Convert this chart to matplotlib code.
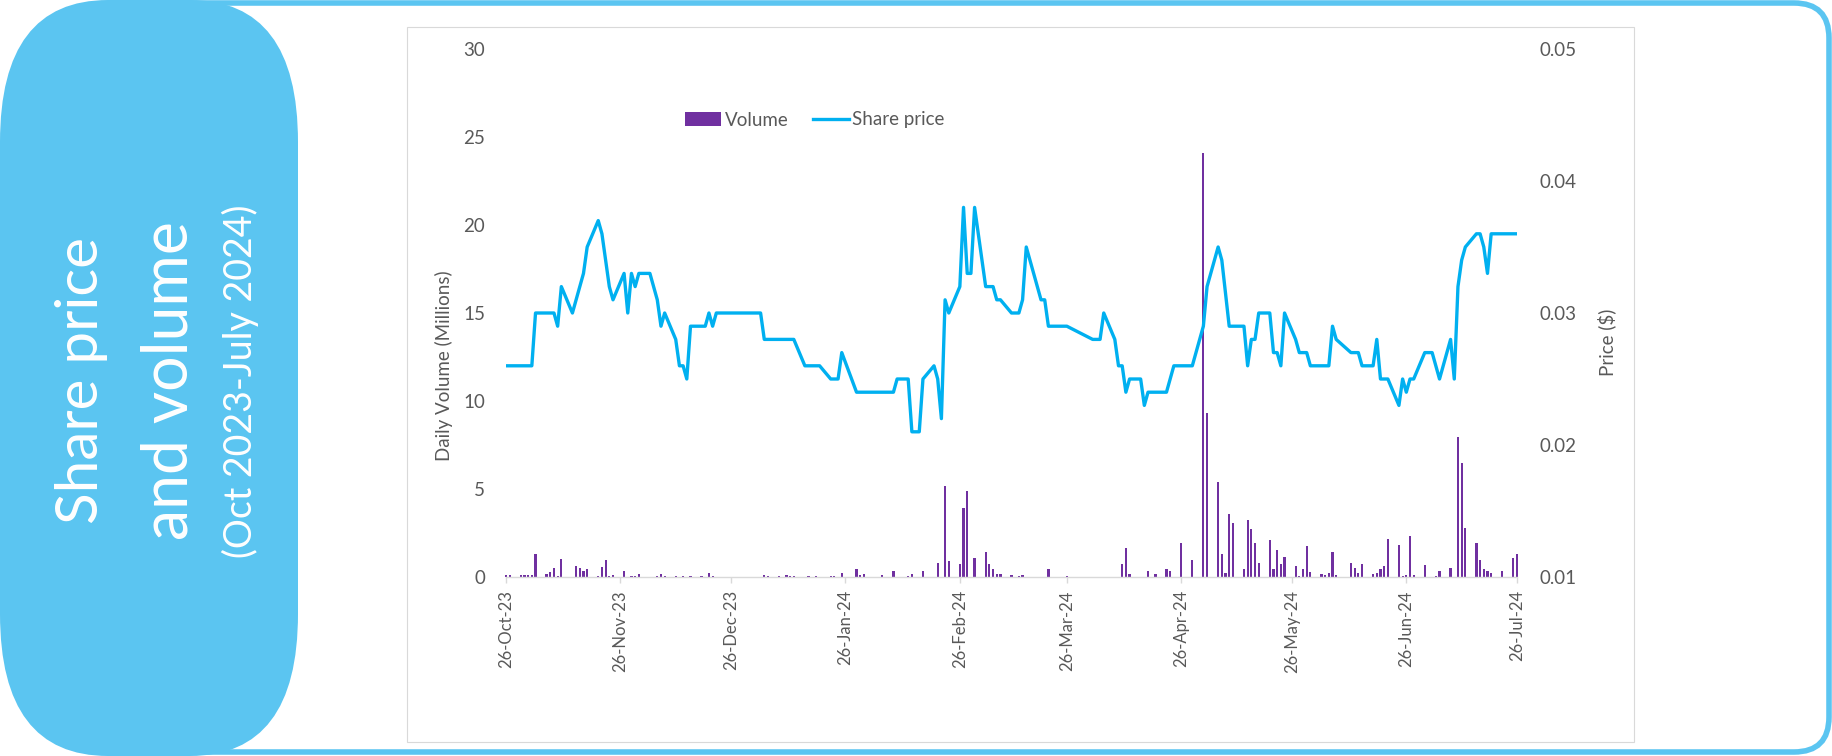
import matplotlib
matplotlib.use('Agg')
import matplotlib.pyplot as plt
import matplotlib.dates as mdates
from matplotlib.patches import FancyBboxPatch, Rectangle, Patch
from matplotlib.lines import Line2D
from matplotlib.ticker import FormatStrFormatter
import pandas as pd

plt.rcParams['font.family'] = ['Lato', 'DejaVu Sans']

# ---------------- data ----------------
vol_dates = [
    '2023-10-26', '2023-10-27', '2023-10-30', '2023-10-31',
    '2023-11-01', '2023-11-02', '2023-11-03', '2023-11-06', '2023-11-07', '2023-11-08',
    '2023-11-09', '2023-11-10', '2023-11-14', '2023-11-15', '2023-11-16', '2023-11-17',
    '2023-11-20', '2023-11-21', '2023-11-22', '2023-11-23', '2023-11-24', '2023-11-27',
    '2023-11-28', '2023-11-29', '2023-11-30',
    '2023-12-01', '2023-12-04', '2023-12-05', '2023-12-06', '2023-12-07', '2023-12-08',
    '2023-12-11', '2023-12-13', '2023-12-15', '2023-12-18', '2023-12-20', '2023-12-21',
    '2024-01-04', '2024-01-05', '2024-01-08', '2024-01-10', '2024-01-11', '2024-01-12',
    '2024-01-16', '2024-01-18', '2024-01-22', '2024-01-23', '2024-01-25', '2024-01-29',
    '2024-01-30', '2024-01-31',
    '2024-02-02', '2024-02-05', '2024-02-08', '2024-02-12', '2024-02-13', '2024-02-14',
    '2024-02-15', '2024-02-16', '2024-02-20', '2024-02-22', '2024-02-23', '2024-02-26',
    '2024-02-27', '2024-02-28', '2024-02-29',
    '2024-03-01', '2024-03-04', '2024-03-05', '2024-03-06', '2024-03-07', '2024-03-08',
    '2024-03-11', '2024-03-13', '2024-03-14', '2024-03-21', '2024-03-26',
    '2024-04-03', '2024-04-04', '2024-04-05', '2024-04-08', '2024-04-09', '2024-04-10',
    '2024-04-11', '2024-04-12', '2024-04-15', '2024-04-17', '2024-04-19', '2024-04-22',
    '2024-04-23', '2024-04-24', '2024-04-26', '2024-04-29',
    '2024-05-02', '2024-05-03', '2024-05-06', '2024-05-07', '2024-05-08', '2024-05-09',
    '2024-05-10', '2024-05-13', '2024-05-14', '2024-05-15', '2024-05-16', '2024-05-17',
    '2024-05-20', '2024-05-21', '2024-05-22', '2024-05-23', '2024-05-24', '2024-05-27',
    '2024-05-28', '2024-05-29', '2024-05-30', '2024-05-31',
    '2024-06-03', '2024-06-04', '2024-06-05', '2024-06-06', '2024-06-07', '2024-06-11',
    '2024-06-12', '2024-06-13', '2024-06-14', '2024-06-17', '2024-06-18', '2024-06-19',
    '2024-06-20', '2024-06-21', '2024-06-24', '2024-06-25', '2024-06-26', '2024-06-27',
    '2024-06-28',
    '2024-07-01', '2024-07-02', '2024-07-03', '2024-07-04', '2024-07-05', '2024-07-08',
    '2024-07-10', '2024-07-11', '2024-07-12', '2024-07-15', '2024-07-16', '2024-07-17',
    '2024-07-18', '2024-07-19', '2024-07-22', '2024-07-25', '2024-07-26',
]
vol_values = [
    0.10, 0.10, 0.10, 0.10,
    0.10, 0.10, 1.30, 0.15, 0.30, 0.50,
    0.03, 1.00, 0.65, 0.52, 0.35, 0.44,
    0.05, 0.56, 0.96, 0.03, 0.13, 0.33,
    0.02, 0.06, 0.08,
    0.17, 0.01, 0.01, 0.08, 0.19, 0.04,
    0.04, 0.06, 0.06, 0.04, 0.25, 0.04,
    0.13, 0.04, 0.04, 0.13, 0.06, 0.06,
    0.04, 0.04, 0.04, 0.04, 0.25, 0.46,
    0.12, 0.15,
    0.01, 0.12, 0.35, 0.04, 0.19, 0.02,
    0.02, 0.35, 0.81, 5.15, 0.92, 0.73,
    3.90, 4.86, 0.02,
    1.07, 1.40, 0.72, 0.44, 0.19, 0.19,
    0.10, 0.04, 0.13, 0.44, 0.04,
    0.01, 0.02, 0.01, 0.01, 0.01, 0.72,
    1.67, 0.15, 0.01, 0.34, 0.15, 0.46,
    0.32, 0.01, 1.95, 0.95,
    24.1, 9.30, 5.37, 1.33, 0.25, 3.57,
    3.04, 0.46, 3.23, 2.75, 1.94, 0.82,
    2.13, 0.44, 1.52, 0.76, 1.14, 0.61,
    0.04, 0.44, 1.78, 0.28,
    0.17, 0.11, 0.23, 1.40, 0.13, 0.80,
    0.53, 0.25, 0.76, 0.15, 0.25, 0.44,
    0.65, 2.18, 1.84, 0.04, 0.11, 2.31,
    0.13,
    0.70, 0.01, 0.01, 0.04, 0.34, 0.53,
    7.97, 6.45, 2.77, 1.95, 0.99, 0.47,
    0.36, 0.25, 0.34, 1.06, 1.29,
]

price_dates = [
    '2023-10-26', '2023-11-02', '2023-11-03', '2023-11-08', '2023-11-09', '2023-11-10',
    '2023-11-13', '2023-11-16', '2023-11-17', '2023-11-20', '2023-11-21', '2023-11-23',
    '2023-11-24', '2023-11-27', '2023-11-28', '2023-11-29', '2023-11-30', '2023-12-01',
    '2023-12-04', '2023-12-06', '2023-12-07', '2023-12-08', '2023-12-11', '2023-12-12',
    '2023-12-13', '2023-12-14', '2023-12-15', '2023-12-19', '2023-12-20', '2023-12-21',
    '2023-12-22', '2024-01-03', '2024-01-04', '2024-01-12', '2024-01-15', '2024-01-19',
    '2024-01-22', '2024-01-24', '2024-01-25', '2024-01-29', '2024-02-08', '2024-02-09',
    '2024-02-12', '2024-02-13', '2024-02-15', '2024-02-16', '2024-02-19', '2024-02-20',
    '2024-02-21', '2024-02-22', '2024-02-23', '2024-02-26', '2024-02-27', '2024-02-28',
    '2024-02-29', '2024-03-01', '2024-03-04', '2024-03-06', '2024-03-07', '2024-03-08',
    '2024-03-11', '2024-03-13', '2024-03-14', '2024-03-15', '2024-03-19', '2024-03-20',
    '2024-03-21', '2024-03-26', '2024-04-02', '2024-04-04', '2024-04-05', '2024-04-08',
    '2024-04-09', '2024-04-10', '2024-04-11', '2024-04-12', '2024-04-15', '2024-04-16',
    '2024-04-17', '2024-04-22', '2024-04-24', '2024-04-29', '2024-05-02', '2024-05-03',
    '2024-05-06', '2024-05-07', '2024-05-09', '2024-05-13', '2024-05-14', '2024-05-15',
    '2024-05-16', '2024-05-17', '2024-05-20', '2024-05-21', '2024-05-22', '2024-05-23',
    '2024-05-24', '2024-05-27', '2024-05-28', '2024-05-30', '2024-05-31', '2024-06-05',
    '2024-06-06', '2024-06-07', '2024-06-11', '2024-06-13', '2024-06-14', '2024-06-17',
    '2024-06-18', '2024-06-19', '2024-06-21', '2024-06-24', '2024-06-25', '2024-06-26',
    '2024-06-27', '2024-06-28', '2024-07-01', '2024-07-03', '2024-07-05', '2024-07-08',
    '2024-07-09', '2024-07-10', '2024-07-11', '2024-07-12', '2024-07-15', '2024-07-16',
    '2024-07-17', '2024-07-18', '2024-07-19', '2024-07-26',
]
price_values = [
    0.026, 0.026, 0.030, 0.030, 0.029, 0.032,
    0.030, 0.033, 0.035, 0.037, 0.036, 0.032,
    0.031, 0.033, 0.030, 0.033, 0.032, 0.033,
    0.033, 0.031, 0.029, 0.030, 0.028, 0.026,
    0.026, 0.025, 0.029, 0.029, 0.030, 0.029,
    0.030, 0.030, 0.028, 0.028, 0.026, 0.026,
    0.025, 0.025, 0.027, 0.024, 0.024, 0.025,
    0.025, 0.021, 0.021, 0.025, 0.026, 0.025,
    0.022, 0.031, 0.030, 0.032, 0.038, 0.033,
    0.033, 0.038, 0.032, 0.032, 0.031, 0.031,
    0.030, 0.030, 0.031, 0.035, 0.031, 0.031,
    0.029, 0.029, 0.028, 0.028, 0.030, 0.028,
    0.026, 0.026, 0.024, 0.025, 0.025, 0.023,
    0.024, 0.024, 0.026, 0.026, 0.029, 0.032,
    0.035, 0.034, 0.029, 0.029, 0.026, 0.028,
    0.028, 0.030, 0.030, 0.027, 0.027, 0.026,
    0.030, 0.028, 0.027, 0.027, 0.026, 0.026,
    0.029, 0.028, 0.027, 0.027, 0.026, 0.026,
    0.028, 0.025, 0.025, 0.023, 0.025, 0.024,
    0.025, 0.025, 0.027, 0.027, 0.025, 0.028,
    0.025, 0.032, 0.034, 0.035, 0.036, 0.036,
    0.035, 0.033, 0.036, 0.036,
]

tick_dates = ['2023-10-26', '2023-11-26', '2023-12-26', '2024-01-26', '2024-02-26',
              '2024-03-26', '2024-04-26', '2024-05-26', '2024-06-26', '2024-07-26']
vol_ticks = [0, 5, 10, 15, 20, 25, 30]
price_ticks = [0.01, 0.02, 0.03, 0.04, 0.05]

panel_lines = ['Share price', 'and volume', '(Oct 2023-July 2024)']

# ---------------- styling ----------------
BLUE_FRAME = '#5BC5F1'
PURPLE = '#7030A0'
LINE_BLUE = '#00B0F0'
TXT = '#595959'
GRID = '#D9D9D9'

W, H = 1832, 756
fig = plt.figure(figsize=(W / 100, H / 100), dpi=100)

# background decoration (pixel coordinates)
bg = fig.add_axes([0, 0, 1, 1], zorder=0)
bg.set_xlim(0, W)
bg.set_ylim(H, 0)
bg.axis('off')

bg.add_patch(FancyBboxPatch((150, 3), 1829 - 150, 752 - 3,
                            boxstyle='round,pad=0,rounding_size=35',
                            facecolor='white', edgecolor=BLUE_FRAME, linewidth=4))
bg.add_patch(Rectangle((407, 27), 1634 - 407, 742 - 27, fill=False,
                       edgecolor=GRID, linewidth=0.8))
bg.add_patch(FancyBboxPatch((0, 0), 298, 756,
                            boxstyle='round,pad=0,rounding_size=108',
                            mutation_aspect=142 / 108,
                            facecolor=BLUE_FRAME, edgecolor='none'))
bg.text(82, 381, panel_lines[0], rotation=90, ha='center', va='center',
        color='white', fontsize=42)
bg.text(169, 381, panel_lines[1], rotation=90, ha='center', va='center',
        color='white', fontsize=45)
bg.text(240, 381, panel_lines[2], rotation=90, ha='center', va='center',
        color='white', fontsize=27)

# main axes
x0, x1 = 506, 1517
y_top, y_bot = 49, 577
ax = fig.add_axes([x0 / W, 1 - y_bot / H, (x1 - x0) / W, (y_bot - y_top) / H], zorder=2)
ax.patch.set_alpha(0)

ax.bar(pd.to_datetime(vol_dates), vol_values, width=0.6, color=PURPLE,
       clip_on=False, zorder=2)
ax.set_xlim(pd.Timestamp(tick_dates[0]), pd.Timestamp(tick_dates[-1]))
ax.set_ylim(vol_ticks[0], vol_ticks[-1])
ax.set_yticks(vol_ticks)

ax.set_xticks(pd.to_datetime(tick_dates))
ax.xaxis.set_major_formatter(mdates.DateFormatter('%d-%b-%y'))
for lab in ax.get_xticklabels():
    lab.set_rotation(90)

for s in ['top', 'left', 'right']:
    ax.spines[s].set_visible(False)
ax.spines['bottom'].set_color(GRID)
ax.spines['bottom'].set_linewidth(1.0)
ax.tick_params(axis='x', direction='out', length=4.5, width=1.0, color=GRID,
               labelcolor=TXT, labelsize=12, pad=5)
ax.tick_params(axis='y', length=0, labelcolor=TXT, labelsize=13.5, pad=15)

ax2 = ax.twinx()
ax2.plot(pd.to_datetime(price_dates), price_values, color=LINE_BLUE, lw=2.4,
         solid_joinstyle='round', zorder=3)
ax2.set_ylim(price_ticks[0], price_ticks[-1])
ax2.set_yticks(price_ticks)
ax2.yaxis.set_major_formatter(FormatStrFormatter('%.2f'))
for s in ['top', 'left', 'right', 'bottom']:
    ax2.spines[s].set_visible(False)
ax2.tick_params(axis='y', length=0, labelcolor=TXT, labelsize=13.5, pad=16)

fig.text(444 / W, 1 - 366 / H, 'Daily Volume (Millions)', rotation=90,
         ha='center', va='center', fontsize=13.5, color=TXT)
fig.text(1607 / W, 1 - 342 / H, 'Price ($)', rotation=90,
         ha='center', va='center', fontsize=13.5, color=TXT)

handles = [Patch(facecolor=PURPLE, edgecolor='none'),
           Line2D([], [], color=LINE_BLUE, lw=2.4)]
fig.legend(handles, ['Volume', 'Share price'], loc='center',
           bbox_to_anchor=(815 / W, 1 - 120 / H), ncol=2, frameon=False,
           fontsize=13.5, handlelength=1.9, handletextpad=0.2,
           columnspacing=1.3, labelcolor=TXT)

fig.savefig('out.png', dpi=100)
